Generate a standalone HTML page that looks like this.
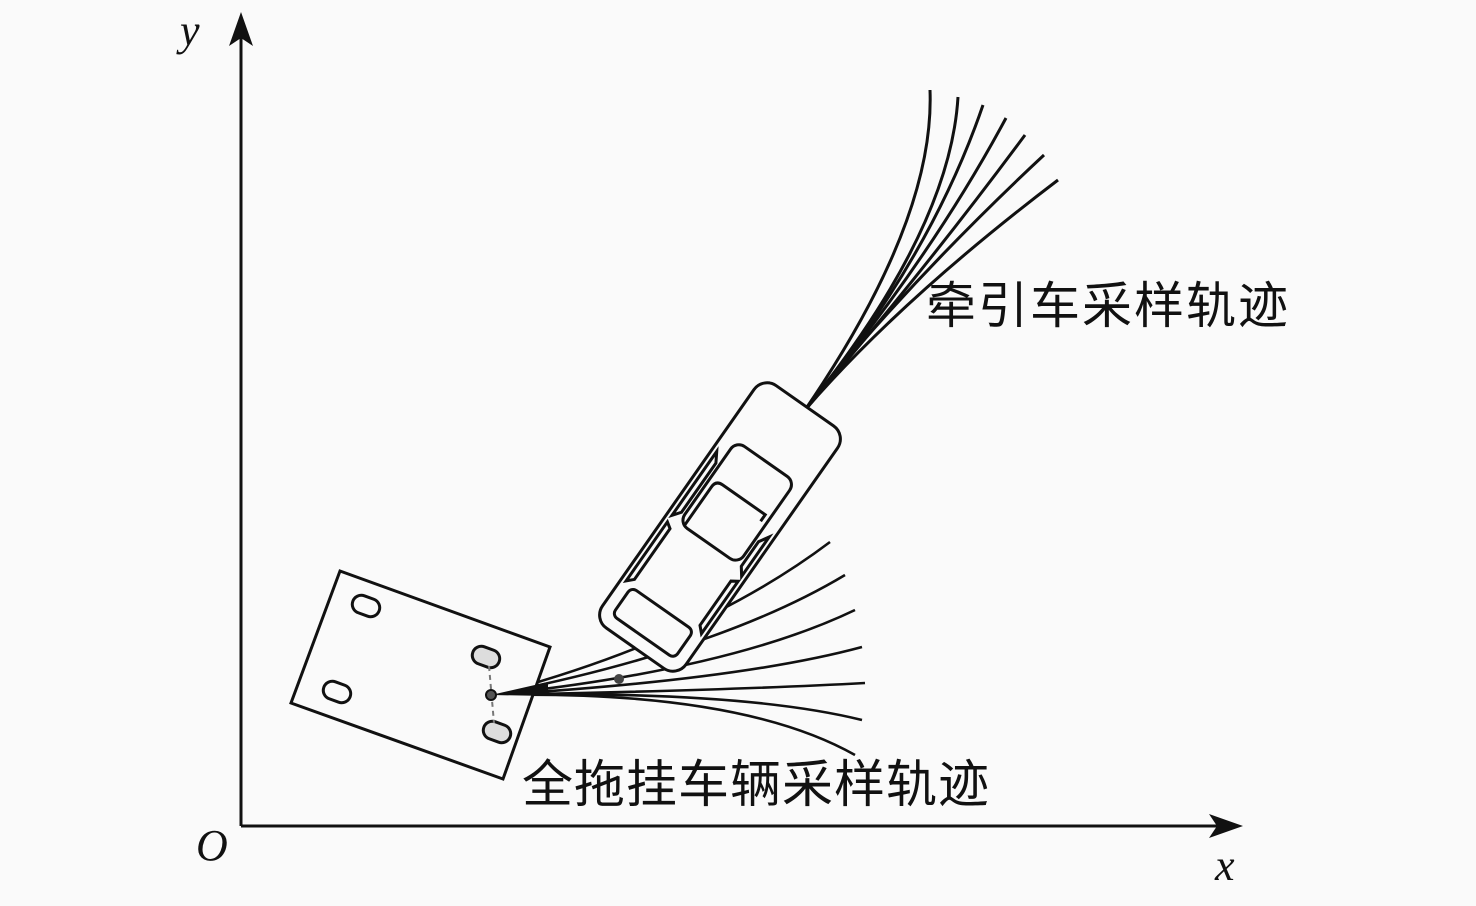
<!DOCTYPE html>
<html><head><meta charset="utf-8"><style>
html,body{margin:0;padding:0;background:#fafafa;}
svg{display:block}
.cj{font-family:"Liberation Sans","Noto Sans CJK SC",sans-serif;}
.it{font-family:"Liberation Serif",serif;font-style:italic;}
</style></head><body>
<svg width="1476" height="906" viewBox="0 0 1476 906" xmlns="http://www.w3.org/2000/svg">
<rect width="1476" height="906" fill="#fafafa"/>
<g stroke="#111" stroke-width="3" fill="none">
<line x1="241" y1="826" x2="241" y2="30"/>
<line x1="241" y1="826" x2="1225" y2="826"/>
</g>
<polygon points="241,12 229,46 241,38 253,46" fill="#111"/>
<polygon points="1243,826 1209,814 1217,826 1209,838" fill="#111"/>
<text class="it" x="180" y="45" font-size="44" fill="#111">y</text>
<text class="it" x="196" y="860" font-size="44" fill="#111">O</text>
<text class="it" x="1215" y="880" font-size="44" fill="#111">x</text>

<g stroke="#111" stroke-width="3" fill="none">
<path d="M805,410 Q935,220 930,90"/>
<path d="M805,410 Q950,230 958,97"/>
<path d="M805,410 Q930,260 983,105"/>
<path d="M805,410 Q930,260 1006,118"/>
<path d="M805,410 Q925,270 1025,135"/>
<path d="M805,410 Q910,280 1044,155"/>
<path d="M805,410 Q900,300 1058,180"/>
</g>

<g stroke="#111" stroke-width="2.6" fill="none">
<path d="M492,695 Q700,640 830,542"/>
<path d="M492,695 Q720,650 845,575"/>
<path d="M492,695 Q730,670 855,610"/>
<path d="M492,695 Q740,680 862,647"/>
<path d="M492,695 Q740,690 865,683"/>
<path d="M492,695 Q740,690 862,720"/>
<path d="M492,695 Q740,690 855,755"/>
</g>
<circle cx="619" cy="679" r="5" fill="#444"/>

<polygon points="340,571 550,647 503,779 291,703" fill="#fafafa" stroke="#111" stroke-width="3"/>
<g stroke="#111" stroke-width="3" fill="#fafafa">
<rect x="352" y="597" width="28" height="18" rx="9" transform="rotate(20 366 606)"/>
<rect x="323" y="683" width="28" height="18" rx="9" transform="rotate(20 337 692)"/>
<rect x="472" y="648" width="28" height="18" rx="9" transform="rotate(20 486 657)" fill="#ddd"/>
<rect x="483" y="723" width="28" height="18" rx="9" transform="rotate(20 497 732)" fill="#ddd"/>
</g>
<line x1="489" y1="666" x2="494" y2="723" stroke="#777" stroke-width="2" stroke-dasharray="5,4"/>
<path d="M491,695 L548,682 L548,696 Z" fill="#111"/>
<circle cx="491" cy="695" r="5" fill="#555" stroke="#111" stroke-width="2"/>

<g transform="translate(720,527) rotate(35)" stroke="#111" stroke-width="3" fill="#fafafa">
<rect x="-51" y="-148" width="102" height="296" rx="16"/>
<rect x="-36" y="-80" width="72" height="100" rx="10" fill="none"/>
<path d="M-30,20 L-30,-28 Q-30,-36 -22,-36 L30,-36 L30,-28" fill="none"/>
<rect x="-38" y="100" width="76" height="34" rx="6" fill="none"/>
<path d="M-46,-60 L-40,-50 L-40,10 L-46,18 Z" fill="none"/>
<path d="M-46,26 L-40,30 L-40,92 L-46,98 Z" fill="none"/>
<path d="M46,-20 L40,-10 L40,20 L46,28 Z" fill="none"/>
<path d="M46,34 L40,38 L40,92 L46,98 Z" fill="none"/>
</g>

<text class="cj" x="926" y="323" font-size="50" letter-spacing="2" fill="#111">牵引车采样轨迹</text>
<text class="cj" x="522" y="802" font-size="51" letter-spacing="1" fill="#111">全拖挂车辆采样轨迹</text>
</svg>
</body></html>
